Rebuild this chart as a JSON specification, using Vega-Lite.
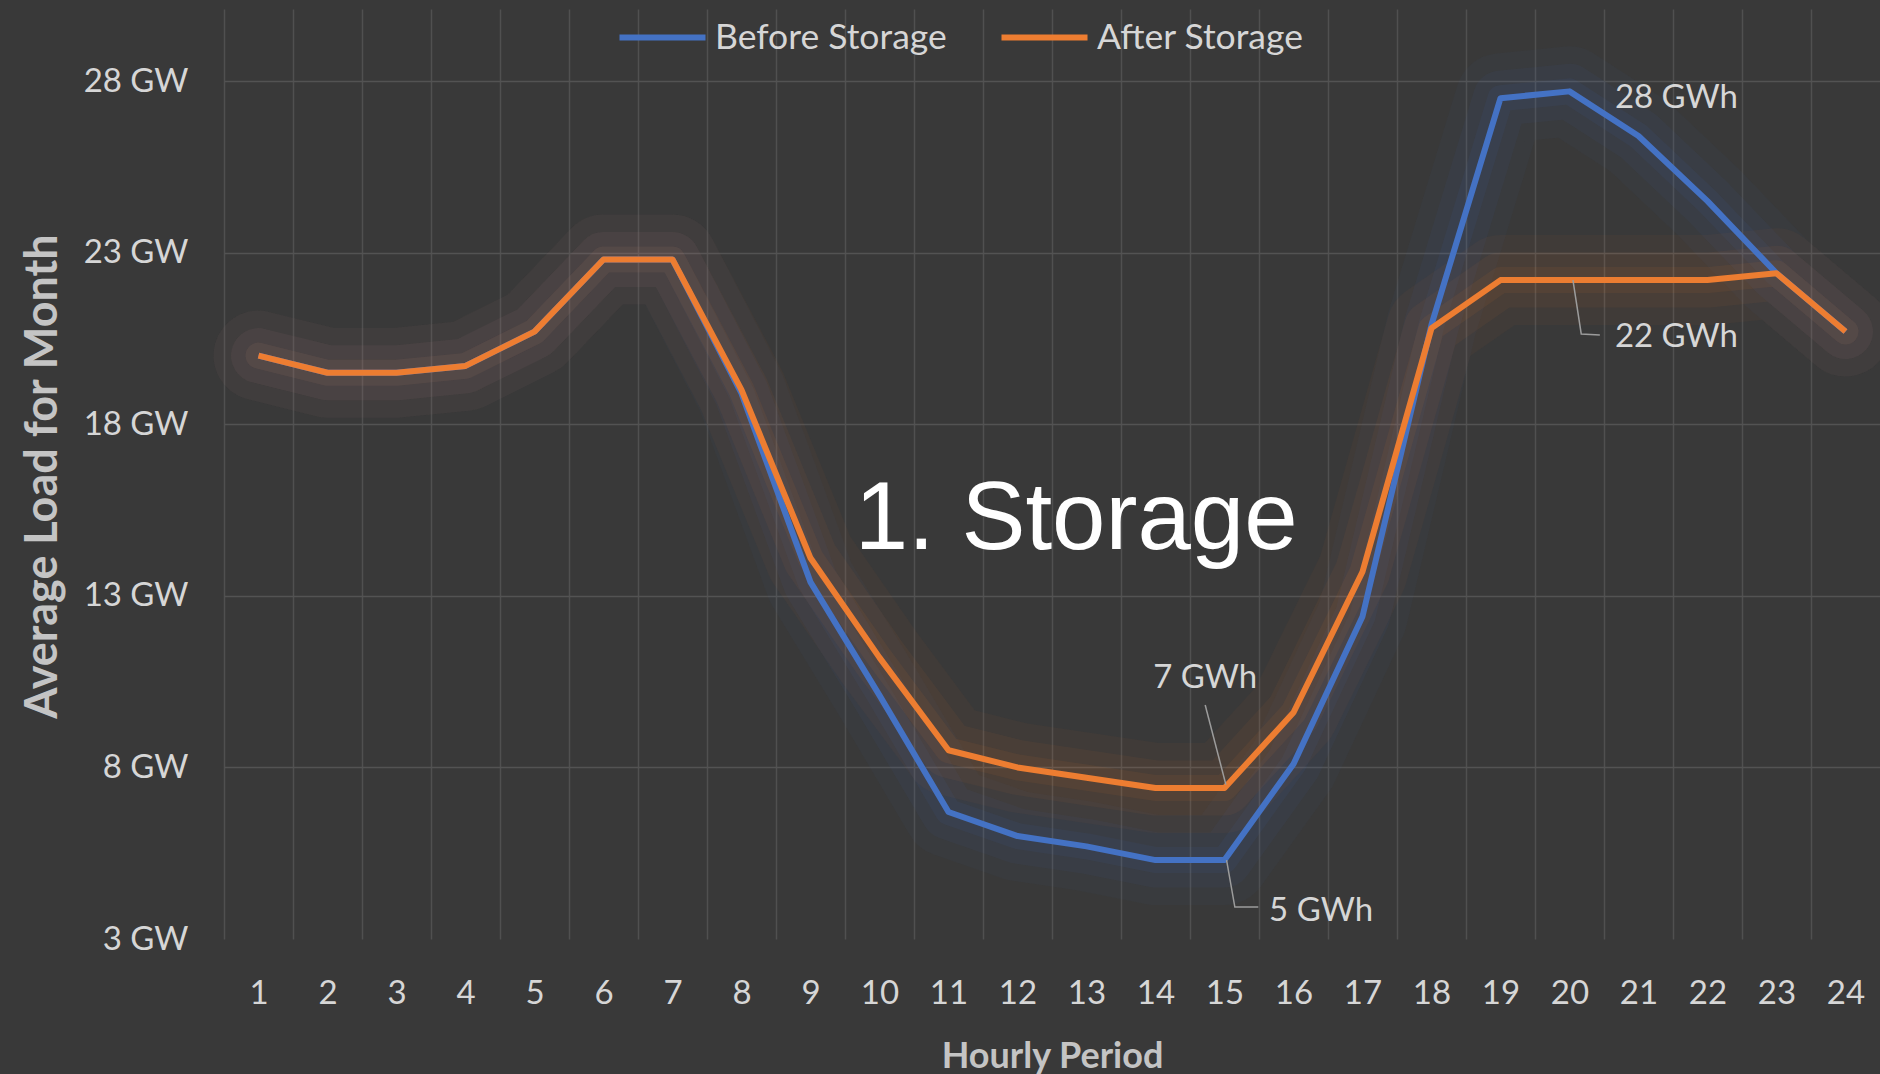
{
  "$schema": "https://vega.github.io/schema/vega-lite/v6.json",
  "width": 1656,
  "height": 930,
  "autosize": "none",
  "padding": {"left": 224, "top": 9, "right": 0, "bottom": 135},
  "background": "#393939",
  "config": {
    "view": {"stroke": null},
    "font": "Lato",
    "axis": {"domain": false, "ticks": false, "tickSize": 0}
  },
  "datasets": {
    "load": [
      {"hour": 1, "series": "Before Storage", "gw": 20.0},
      {"hour": 2, "series": "Before Storage", "gw": 19.5},
      {"hour": 3, "series": "Before Storage", "gw": 19.5},
      {"hour": 4, "series": "Before Storage", "gw": 19.7},
      {"hour": 5, "series": "Before Storage", "gw": 20.7},
      {"hour": 6, "series": "Before Storage", "gw": 22.8},
      {"hour": 7, "series": "Before Storage", "gw": 22.8},
      {"hour": 8, "series": "Before Storage", "gw": 18.9},
      {"hour": 9, "series": "Before Storage", "gw": 13.4},
      {"hour": 10, "series": "Before Storage", "gw": 10.1},
      {"hour": 11, "series": "Before Storage", "gw": 6.7},
      {"hour": 12, "series": "Before Storage", "gw": 6.0},
      {"hour": 13, "series": "Before Storage", "gw": 5.7},
      {"hour": 14, "series": "Before Storage", "gw": 5.3},
      {"hour": 15, "series": "Before Storage", "gw": 5.3},
      {"hour": 16, "series": "Before Storage", "gw": 8.1},
      {"hour": 17, "series": "Before Storage", "gw": 12.4},
      {"hour": 18, "series": "Before Storage", "gw": 20.9},
      {"hour": 19, "series": "Before Storage", "gw": 27.5},
      {"hour": 20, "series": "Before Storage", "gw": 27.7},
      {"hour": 21, "series": "Before Storage", "gw": 26.4},
      {"hour": 22, "series": "Before Storage", "gw": 24.5},
      {"hour": 23, "series": "Before Storage", "gw": 22.4},
      {"hour": 24, "series": "Before Storage", "gw": 20.7},
      {"hour": 1, "series": "After Storage", "gw": 20.0},
      {"hour": 2, "series": "After Storage", "gw": 19.5},
      {"hour": 3, "series": "After Storage", "gw": 19.5},
      {"hour": 4, "series": "After Storage", "gw": 19.7},
      {"hour": 5, "series": "After Storage", "gw": 20.7},
      {"hour": 6, "series": "After Storage", "gw": 22.8},
      {"hour": 7, "series": "After Storage", "gw": 22.8},
      {"hour": 8, "series": "After Storage", "gw": 19.0},
      {"hour": 9, "series": "After Storage", "gw": 14.1},
      {"hour": 10, "series": "After Storage", "gw": 11.2},
      {"hour": 11, "series": "After Storage", "gw": 8.5},
      {"hour": 12, "series": "After Storage", "gw": 8.0},
      {"hour": 13, "series": "After Storage", "gw": 7.7},
      {"hour": 14, "series": "After Storage", "gw": 7.4},
      {"hour": 15, "series": "After Storage", "gw": 7.4},
      {"hour": 16, "series": "After Storage", "gw": 9.6},
      {"hour": 17, "series": "After Storage", "gw": 13.7},
      {"hour": 18, "series": "After Storage", "gw": 20.8},
      {"hour": 19, "series": "After Storage", "gw": 22.2},
      {"hour": 20, "series": "After Storage", "gw": 22.2},
      {"hour": 21, "series": "After Storage", "gw": 22.2},
      {"hour": 22, "series": "After Storage", "gw": 22.2},
      {"hour": 23, "series": "After Storage", "gw": 22.4},
      {"hour": 24, "series": "After Storage", "gw": 20.7}
    ],
    "leaders": [
      {"leader": "22 GWh", "step": 1, "hour": 20.05, "gw": 22.2},
      {"leader": "22 GWh", "step": 2, "hour": 20.17, "gw": 20.63},
      {"leader": "22 GWh", "step": 3, "hour": 20.44, "gw": 20.6},
      {"leader": "7 GWh", "step": 1, "hour": 14.72, "gw": 9.82},
      {"leader": "7 GWh", "step": 2, "hour": 15.02, "gw": 7.5},
      {"leader": "5 GWh", "step": 1, "hour": 15.03, "gw": 5.3},
      {"leader": "5 GWh", "step": 2, "hour": 15.15, "gw": 3.93},
      {"leader": "5 GWh", "step": 3, "hour": 15.49, "gw": 3.93}
    ],
    "notes": [
      {"label": "28 GWh", "hour": 21.55, "gw": 27.5},
      {"label": "22 GWh", "hour": 21.55, "gw": 20.54},
      {"label": "7 GWh", "hour": 14.72, "gw": 10.6},
      {"label": "5 GWh", "hour": 16.4, "gw": 3.82}
    ],
    "heading": [
      {"label": "1. Storage", "hour": 12.85, "gw": 14.36}
    ]
  },
  "layer": [
    {
      "data": {"name": "load"},
      "transform": [{"filter": "datum.series === 'Before Storage'"}],
      "mark": {"type": "line", "color": "#4472c4", "strokeWidth": 90, "opacity": 0.045, "strokeCap": "round", "strokeJoin": "round"},
      "encoding": {
        "x": {"field": "hour", "type": "quantitative"},
        "y": {"field": "gw", "type": "quantitative"}
      }
    },
    {
      "data": {"name": "load"},
      "transform": [{"filter": "datum.series === 'Before Storage'"}],
      "mark": {"type": "line", "color": "#4472c4", "strokeWidth": 55, "opacity": 0.055, "strokeCap": "round", "strokeJoin": "round"},
      "encoding": {
        "x": {"field": "hour", "type": "quantitative"},
        "y": {"field": "gw", "type": "quantitative"}
      }
    },
    {
      "data": {"name": "load"},
      "transform": [{"filter": "datum.series === 'Before Storage'"}],
      "mark": {"type": "line", "color": "#4472c4", "strokeWidth": 26, "opacity": 0.07, "strokeCap": "round", "strokeJoin": "round"},
      "encoding": {
        "x": {"field": "hour", "type": "quantitative"},
        "y": {"field": "gw", "type": "quantitative"}
      }
    },
    {
      "data": {"name": "load"},
      "transform": [{"filter": "datum.series === 'After Storage'"}],
      "mark": {"type": "line", "color": "#ed7d31", "strokeWidth": 90, "opacity": 0.045, "strokeCap": "round", "strokeJoin": "round"},
      "encoding": {
        "x": {"field": "hour", "type": "quantitative"},
        "y": {"field": "gw", "type": "quantitative"}
      }
    },
    {
      "data": {"name": "load"},
      "transform": [{"filter": "datum.series === 'After Storage'"}],
      "mark": {"type": "line", "color": "#ed7d31", "strokeWidth": 55, "opacity": 0.055, "strokeCap": "round", "strokeJoin": "round"},
      "encoding": {
        "x": {"field": "hour", "type": "quantitative"},
        "y": {"field": "gw", "type": "quantitative"}
      }
    },
    {
      "data": {"name": "load"},
      "transform": [{"filter": "datum.series === 'After Storage'"}],
      "mark": {"type": "line", "color": "#ed7d31", "strokeWidth": 26, "opacity": 0.07, "strokeCap": "round", "strokeJoin": "round"},
      "encoding": {
        "x": {"field": "hour", "type": "quantitative"},
        "y": {"field": "gw", "type": "quantitative"}
      }
    },
    {
      "data": {"name": "load"},
      "mark": {"type": "line", "strokeWidth": 6, "strokeJoin": "round"},
      "encoding": {
        "x": {
          "field": "hour",
          "type": "quantitative",
          "scale": {"domain": [0.5, 24.5], "nice": false, "zero": false},
          "axis": {
            "values": [0.5, 1.5, 2.5, 3.5, 4.5, 5.5, 6.5, 7.5, 8.5, 9.5, 10.5, 11.5, 12.5, 13.5, 14.5, 15.5, 16.5, 17.5, 18.5, 19.5, 20.5, 21.5, 22.5, 23.5],
            "labelExpr": "'' + (datum.value + 0.5)",
            "labelOffset": 34.5,
            "labelOverlap": false,
            "labelFlush": false,
            "labelFontSize": 33,
            "labelColor": "#d6d6d6",
            "labelPadding": 38,
            "grid": true,
            "gridColor": "#505050",
            "gridWidth": 1.5,
            "title": "Hourly Period",
            "titleFontSize": 36,
            "titleFontWeight": "bold",
            "titleColor": "#c4c4c4",
            "titleBaseline": "middle",
            "titleY": 117
          }
        },
        "y": {
          "field": "gw",
          "type": "quantitative",
          "scale": {"domain": [3, 30.1], "nice": false, "zero": false},
          "axis": {
            "values": [3, 8, 13, 18, 23, 28],
            "labelExpr": "datum.value + ' GW'",
            "labelFontSize": 33,
            "labelColor": "#d6d6d6",
            "labelPadding": 36,
            "grid": true,
            "gridColor": "#535353",
            "gridWidth": 1.5,
            "gridOpacity": {"condition": {"test": "datum.value === 3", "value": 0}, "value": 1},
            "title": "Average Load for Month",
            "titleFontSize": 45,
            "titleFontWeight": "bold",
            "titleColor": "#c4c4c4",
            "titleAlign": "center",
            "titleBaseline": "middle",
            "titleX": -182,
            "titleY": 467
          }
        },
        "color": {
          "field": "series",
          "type": "nominal",
          "scale": {"domain": ["Before Storage", "After Storage"], "range": ["#4472c4", "#ed7d31"]},
          "legend": {
            "orient": "none",
            "legendX": 392,
            "legendY": -18,
            "direction": "horizontal",
            "title": null,
            "symbolType": "stroke",
            "symbolSize": 7400,
            "symbolStrokeWidth": 6,
            "symbolOpacity": 1,
            "labelFontSize": 35.5,
            "labelColor": "#d6d6d6",
            "labelLimit": 600,
            "labelOffset": 6,
            "columnPadding": 42,
            "padding": 0
          }
        }
      }
    },
    {
      "data": {"name": "leaders"},
      "mark": {"type": "line", "color": "#9c9c9c", "strokeWidth": 1.5},
      "encoding": {
        "x": {"field": "hour", "type": "quantitative"},
        "y": {"field": "gw", "type": "quantitative"},
        "detail": {"field": "leader"},
        "order": {"field": "step"}
      }
    },
    {
      "data": {"name": "notes"},
      "mark": {"type": "text", "fontSize": 33, "color": "#d6d6d6", "align": "center", "baseline": "middle"},
      "encoding": {
        "x": {"field": "hour", "type": "quantitative"},
        "y": {"field": "gw", "type": "quantitative"},
        "text": {"field": "label"}
      }
    },
    {
      "data": {"name": "heading"},
      "mark": {"type": "text", "font": "Liberation Sans", "fontSize": 96, "color": "#ffffff", "align": "center", "baseline": "alphabetic"},
      "encoding": {
        "x": {"field": "hour", "type": "quantitative"},
        "y": {"field": "gw", "type": "quantitative"},
        "text": {"field": "label"}
      }
    }
  ]
}
